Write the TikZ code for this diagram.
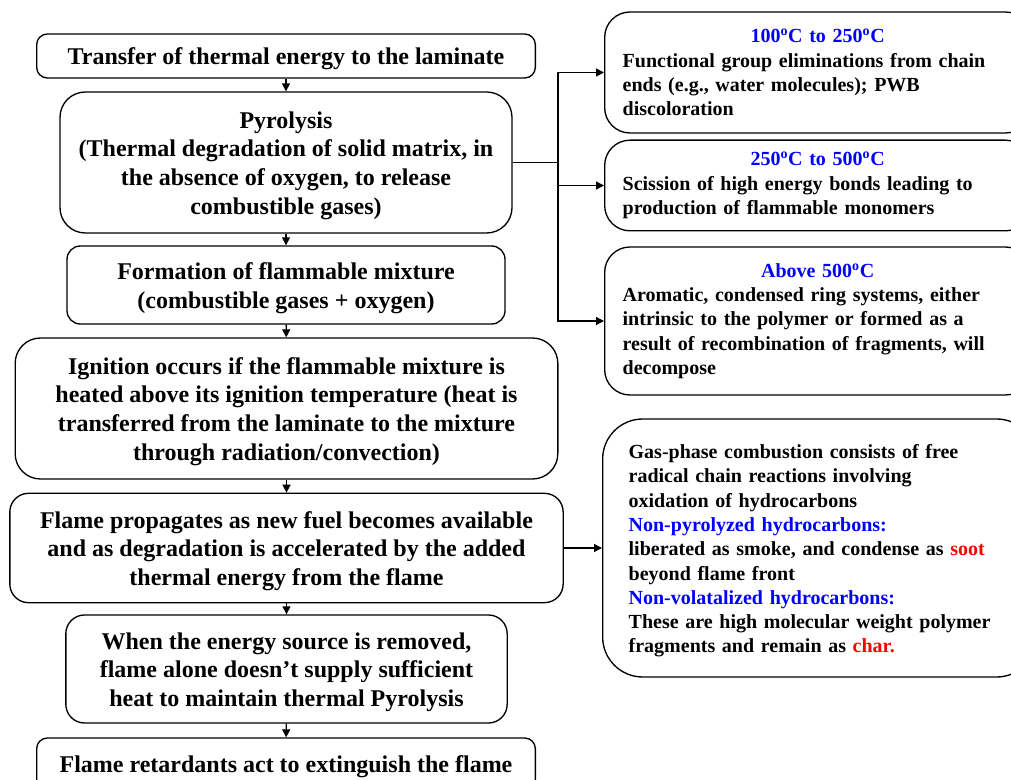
\documentclass[tikz,border=0pt]{standalone}
\usepackage{fontspec}
\setmainfont{Liberation Serif}
\usetikzlibrary{arrows.meta}
\tikzset{
  stage/.style={draw, line width=1pt, align=center, inner sep=2pt,
    font=\bfseries\fontsize{18}{21.5}\selectfont},
  note/.style={draw, line width=1pt, align=left, anchor=west, rounded corners=19pt,
    minimum width=319.5pt, text width=292.5pt, inner xsep=13.5pt,
    font=\bfseries\fontsize{15}{18.2}\selectfont},
}
\newcommand{\degc}{\textsuperscript{o}C}
\newcommand{\lift}{\rule{0pt}{17pt}}
\begin{document}
\begin{tikzpicture}[x=0.75pt, y=-0.75pt, >={Triangle[length=6pt,width=6pt]}]
  \useasboundingbox (0,0) rectangle (1011,780);
  \clip (0,0) rectangle (1011,780);
  \draw
    (286,56) node[stage, rounded corners=8pt, minimum width=374pt, minimum height=33pt] (transfer)
      {\lift Transfer of thermal energy to the laminate}
    (286,162.5) node[stage, rounded corners=19pt, minimum width=339pt, minimum height=105.75pt] (pyro)
      {\lift Pyrolysis\\(Thermal degradation of solid matrix, in\\the absence of oxygen, to release\\combustible gases)}
    (286,285) node[stage, rounded corners=10pt, minimum width=328.5pt, minimum height=58.5pt] (mixture)
      {\lift Formation of flammable mixture\\(combustible gases + oxygen)}
    (286.5,408.5) node[stage, rounded corners=19pt, minimum width=407pt, minimum height=105.75pt] (ignition)
      {\lift Ignition occurs if the flammable mixture is\\heated above its ignition temperature (heat is\\transferred from the laminate to the mixture\\through radiation/convection)}
    (286.5,548) node[stage, rounded corners=14pt, minimum width=415pt, minimum height=82pt] (flame)
      {\lift Flame propagates as new fuel becomes available\\and as degradation is accelerated by the added\\thermal energy from the flame}
    (286.5,669) node[stage, rounded corners=14pt, minimum width=331pt, minimum height=81pt] (removed)
      {\lift When the energy source is removed,\\flame alone doesn't supply sufficient\\heat to maintain thermal Pyrolysis}
    (286,764) node[stage, rounded corners=8pt, minimum width=374pt, minimum height=39pt] (retard)
      {\lift Flame retardants act to extinguish the flame};
  \draw
    (604,72.5) node[note, minimum height=90.75pt] (low)
      {{\centering\color{blue}100\degc{} to 250\degc\par}
       Functional group eliminations from chain\\ends (e.g., water molecules); PWB\\discoloration}
    (604,185.5) node[note, minimum height=68pt] (mid)
      {{\centering\color{blue}250\degc{} to 500\degc\par}
       Scission of high energy bonds leading to\\production of flammable monomers}
    (604,321) node[note, minimum height=111pt] (high)
      {{\centering\color{blue}Above 500\degc\par}
       Aromatic, condensed ring systems, either\\intrinsic to the polymer or formed as a\\result of recombination of fragments, will\\decompose}
    (602,548) node[note, rounded corners=30pt, minimum height=193.5pt, inner xsep=19.5pt, text width=286.5pt] (gas)
      {\rule{0pt}{15pt}Gas-phase combustion consists of free\\radical chain reactions involving\\oxidation of hydrocarbons\\
       {\color{blue}Non-pyrolyzed hydrocarbons:}\\
       liberated as smoke, and condense as {\color{red}soot}\\beyond flame front\\
       {\color{blue}Non-volatalized hydrocarbons:}\\
       These are high molecular weight polymer\\fragments and remain as {\color{red}char.}};
  \coordinate (split) at (558,162.5);
  \begin{scope}[->, line width=1pt]
    \draw (transfer) to (pyro);
    \draw (pyro) to (mixture);
    \draw (mixture) to (ignition);
    \draw (ignition) to (flame);
    \draw (flame) to (removed);
    \draw (removed) to (retard);
    \draw (pyro.east) -- (split) |- (low.west);
    \draw (pyro.east) -- (split) |- (mid.west);
    \draw (pyro.east) -- (split) |- (high.west);
    \draw (flame.east) -- (gas.west);
  \end{scope}
\end{tikzpicture}
\end{document}
